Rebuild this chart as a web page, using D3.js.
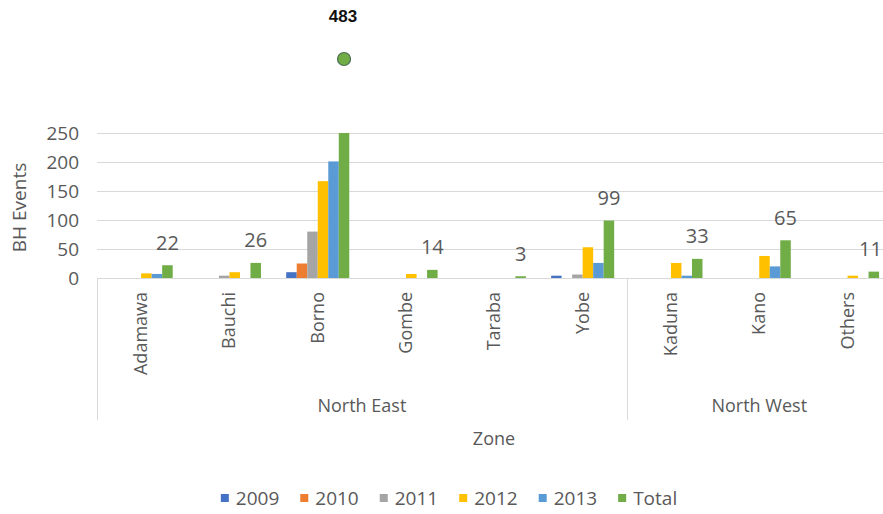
<!DOCTYPE html>
<html lang="en">
  <head>
    <meta charset="UTF-8" />
    <title>BH Events by Zone</title>
    <style>
      body { margin: 0; background: #fff; }
      text { font-family: "Open Sans", sans-serif; fill: #595959; }
    </style>
  </head>
  <body>
    <svg width="883" height="514"></svg>
    <script src="https://d3js.org/d3.v7.min.js"></script>
    <script>
      const states = ["Adamawa", "Bauchi", "Borno", "Gombe", "Taraba", "Yobe", "Kaduna", "Kano", "Others"];
      const zones = ["North East", "North East", "North East", "North East", "North East", "North East", "North West", "North West", "North West"];
      const years = ["2009", "2010", "2011", "2012", "2013", "Total"];

      const v2009 = [0, 0, 10, 0, 0, 4, 0, 0, 0];
      const v2010 = [0, 0, 25, 0, 0, 0, 0, 0, 0];
      const v2011 = [0, 4, 80, 0, 0, 6, 0, 0, 0];
      const v2012 = [8, 10, 167, 7, 0, 53, 26, 38, 4];
      const v2013 = [7, 0, 201, 0, 0, 26, 4, 20, 0];
      const vTotal = [22, 26, 483, 14, 3, 99, 33, 65, 11];

      const yTicks = [0, 50, 100, 150, 200, 250];
      const colors = ["#4472C4", "#ED7D31", "#A5A5A5", "#FFC000", "#5B9BD5", "#70AD47"];

      const seriesValues = [v2009, v2010, v2011, v2012, v2013, vTotal];
      const rows = states.map((s, i) => ({
        state: s,
        zone: zones[i],
        values: years.map((y, j) => ({ key: y, value: seriesValues[j][i] })),
      }));

      const svg = d3.select("svg");
      const width = +svg.attr("width");
      const plotLeft = 97, plotTop = 133, plotBottom = 278;
      const step = 88.3;

      const x = d3.scaleBand().domain(states).range([plotLeft, plotLeft + step * states.length]);
      const xs = d3.scaleBand().domain(years).range([0, x.bandwidth()]).paddingOuter(1.2);
      const y = d3.scaleLinear().domain([0, 250]).range([plotBottom, plotTop]);
      const color = d3.scaleOrdinal().domain(years).range(colors);

      // gridlines
      svg.append("g")
        .selectAll("line")
        .data(yTicks.slice(1))
        .enter()
        .append("line")
        .attr("x1", plotLeft)
        .attr("x2", width)
        .attr("y1", (d) => Math.round(y(d)) + 0.5)
        .attr("y2", (d) => Math.round(y(d)) + 0.5)
        .attr("stroke", "#d9d9d9")
        .attr("stroke-width", 1);

      // y axis labels
      const yAxis = svg.append("g")
        .attr("transform", `translate(${plotLeft - 18},0)`)
        .call(d3.axisLeft(y).tickValues(yTicks).tickSize(0).tickPadding(0));
      yAxis.select(".domain").remove();
      yAxis.selectAll("text")
        .style("font-size", "19px")
        .style("font-family", "Open Sans")
        .attr("fill", "#595959");

      svg.append("text")
        .attr("transform", `translate(26,${(plotTop + plotBottom) / 2 + 2}) rotate(-90)`)
        .attr("text-anchor", "middle")
        .style("font-size", "19px")
        .text("BH Events");

      // bars
      const group = svg.append("g")
        .selectAll("g")
        .data(rows)
        .enter()
        .append("g")
        .attr("transform", (d) => `translate(${x(d.state)},0)`);

      group.selectAll("rect")
        .data((d) => d.values)
        .enter()
        .append("rect")
        .attr("x", (d) => xs(d.key))
        .attr("width", xs.bandwidth())
        .attr("y", (d) => y(Math.min(d.value, 250)))
        .attr("height", (d) => plotBottom - y(Math.min(d.value, 250)))
        .attr("fill", (d) => color(d.key));

      // total labels (off-scale total gets a marker above the plot)
      group.each(function (d) {
        const tot = d.values[5].value;
        const g = d3.select(this);
        const cx = xs("Total") + xs.bandwidth() / 2;
        if (tot > 250) {
          g.append("circle")
            .attr("cx", cx)
            .attr("cy", y(250) - 74)
            .attr("r", 6.5)
            .attr("fill", "#70AD47")
            .attr("stroke", "#4d6b57")
            .attr("stroke-width", 1.2);
          g.append("text")
            .attr("x", cx - 1)
            .attr("y", y(250) - 117)
            .attr("text-anchor", "middle")
            .attr("dominant-baseline", "central")
            .style("font-family", "Liberation Sans, Arial, sans-serif")
            .style("font-weight", "bold")
            .style("font-size", "17px")
            .style("fill", "#111")
            .text(tot);
        } else {
          const t = g.append("text")
            .attr("x", cx)
            .attr("y", y(tot) - 23)
            .attr("text-anchor", "middle")
            .attr("dominant-baseline", "central")
            .style("font-size", "20px")
            .text(tot);
          // keep the label inside the picture
          const half = t.node().getComputedTextLength() / 2;
          const room = width - 1 - x(d.state) - half;
          if (cx > room) t.attr("x", room);
        }
      });

      // category axis
      svg.append("line")
        .attr("x1", plotLeft).attr("x2", width)
        .attr("y1", plotBottom + 0.5).attr("y2", plotBottom + 0.5)
        .attr("stroke", "#d9d9d9");

      const zoneNames = Array.from(new Set(zones));
      const zoneSpans = zoneNames.map((z) => {
        const members = states.filter((s, i) => zones[i] === z);
        return { zone: z, x0: x(members[0]), x1: x(members[members.length - 1]) + x.bandwidth() };
      });

      svg.append("g")
        .selectAll("line")
        .data(zoneSpans)
        .enter()
        .append("line")
        .attr("x1", (d) => Math.round(d.x0) + 0.5)
        .attr("x2", (d) => Math.round(d.x0) + 0.5)
        .attr("y1", plotBottom)
        .attr("y2", 420)
        .attr("stroke", "#d9d9d9");

      svg.append("g")
        .selectAll("text")
        .data(states)
        .enter()
        .append("text")
        .attr("transform", (d) => `translate(${x(d) + x.bandwidth() / 2 + 6},${plotBottom + 14}) rotate(-90)`)
        .attr("text-anchor", "end")
        .style("font-size", "18px")
        .text((d) => d);

      svg.append("g")
        .selectAll("text")
        .data(zoneSpans)
        .enter()
        .append("text")
        .attr("x", (d) => (d.x0 + d.x1) / 2)
        .attr("y", 405)
        .attr("text-anchor", "middle")
        .attr("dominant-baseline", "central")
        .style("font-size", "18px")
        .text((d) => d.zone);

      svg.append("text")
        .attr("x", 494)
        .attr("y", 438)
        .attr("text-anchor", "middle")
        .attr("dominant-baseline", "central")
        .style("font-size", "18px")
        .text("Zone");

      // legend
      const legend = svg.append("g");
      let lx = 0;
      const items = legend.selectAll("g").data(years).enter().append("g");
      items.each(function (d) {
        const g = d3.select(this);
        g.append("rect").attr("x", 0).attr("y", -4).attr("width", 8).attr("height", 8).attr("fill", color(d));
        const t = g.append("text")
          .attr("x", 15)
          .attr("dominant-baseline", "central")
          .style("font-size", "19px")
          .text(d);
        const w = t.node().getComputedTextLength();
        g.attr("transform", `translate(${lx},0)`);
        lx += 15 + w + 21;
      });
      const legendWidth = lx - 21;
      legend.attr("transform", `translate(${449 - legendWidth / 2},498)`);
    </script>
  </body>
</html>
